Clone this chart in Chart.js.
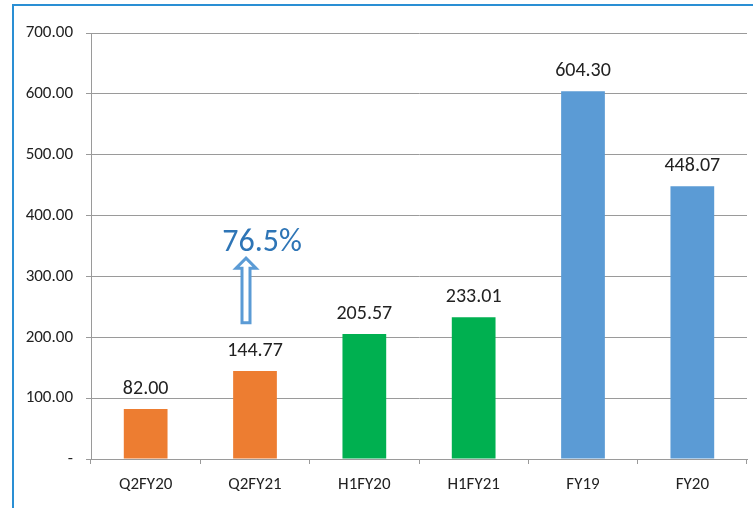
<!DOCTYPE html>
<html>
<head>
<meta charset="utf-8">
<script src="https://cdn.jsdelivr.net/npm/chart.js@4/dist/chart.umd.min.js"></script>
<style>
html,body{margin:0;padding:0;background:#fff;width:753px;height:508px;overflow:hidden;}
#frame{position:absolute;left:12px;top:4px;width:760px;height:520px;border-left:2px solid #2a8fd4;border-top:2px solid #2a8fd4;box-sizing:border-box;}
canvas{position:absolute;left:0;top:0;}
</style>
</head>
<body>
<div id="frame"></div>
<canvas id="c" width="753" height="508"></canvas>
<script>
const categories = ["Q2FY20", "Q2FY21", "H1FY20", "H1FY21", "FY19", "FY20"];
const values = [82.00, 144.77, 205.57, 233.01, 604.30, 448.07];
const barColors = ["#ED7D31", "#ED7D31", "#00B050", "#00B050", "#5B9BD5", "#5B9BD5"];
const yTicks = [0, 100, 200, 300, 400, 500, 600, 700];
const growthLabel = "76.5%";

const FONT = "Carlito, 'Liberation Sans Narrow', 'Liberation Sans', sans-serif";

const labelPlugin = {
  id: 'labels',
  afterDatasetsDraw(chart) {
    const ctx = chart.ctx;
    const meta = chart.getDatasetMeta(0);
    ctx.save();
    ctx.font = "20px " + FONT;
    ctx.fillStyle = "#222";
    ctx.textAlign = "center";
    ctx.textBaseline = "bottom";
    meta.data.forEach((bar, i) => {
      ctx.fillText(values[i].toFixed(2), bar.x, bar.y - 10);
    });
    const xs = chart.scales.x, ys = chart.scales.y;
    const cx = xs.getPixelForValue(1) - 9;
    const top = ys.getPixelForValue(330);
    const bot = ys.getPixelForValue(224);
    const sw = 4, hw = 10, hh = 10;
    ctx.beginPath();
    ctx.moveTo(cx, top);
    ctx.lineTo(cx + hw, top + hh);
    ctx.lineTo(cx + sw, top + hh);
    ctx.lineTo(cx + sw, bot);
    ctx.lineTo(cx - sw, bot);
    ctx.lineTo(cx - sw, top + hh);
    ctx.lineTo(cx - hw, top + hh);
    ctx.closePath();
    ctx.fillStyle = "#fff";
    ctx.fill();
    ctx.strokeStyle = "#5B9BD5";
    ctx.lineWidth = 3;
    ctx.stroke();
    ctx.font = "32px " + FONT;
    ctx.fillStyle = "#2E75B6";
    ctx.textBaseline = "middle";
    ctx.fillText(growthLabel, xs.getPixelForValue(1) + 7, ys.getPixelForValue(355));
    ctx.restore();
  }
};

new Chart(document.getElementById('c'), {
  type: 'bar',
  data: {
    labels: categories,
    datasets: [{
      data: values,
      backgroundColor: barColors,
      categoryPercentage: 1,
      barPercentage: 0.4
    }]
  },
  options: {
    responsive: false,
    animation: false,
    layout: { padding: { top: 33, right: 6, left: 0, bottom: 0 } },
    plugins: { legend: { display: false }, tooltip: { enabled: false } },
    scales: {
      x: {
        offset: true,
        grid: { offset: true, drawOnChartArea: false, color: '#9a9a9a', tickLength: 5 },
        border: { color: '#9a9a9a', width: 1 },
        ticks: { color: '#222', font: { family: FONT, size: 17 }, padding: 11, maxRotation: 0 },
        afterFit(s) { s.height = 49; }
      },
      y: {
        min: 0, max: 700,
        afterBuildTicks(s) { s.ticks = yTicks.map(v => ({ value: v })); },
        grid: { color: '#9a9a9a', tickLength: 5 },
        border: { color: '#9a9a9a', width: 1 },
        ticks: {
          color: '#222', font: { family: FONT, size: 17 }, padding: 13,
          callback: v => v === 0 ? '-' : v.toFixed(2)
        },
        afterFit(s) { s.width = 91; }
      }
    }
  },
  plugins: [labelPlugin]
});
</script>
</body>
</html>
